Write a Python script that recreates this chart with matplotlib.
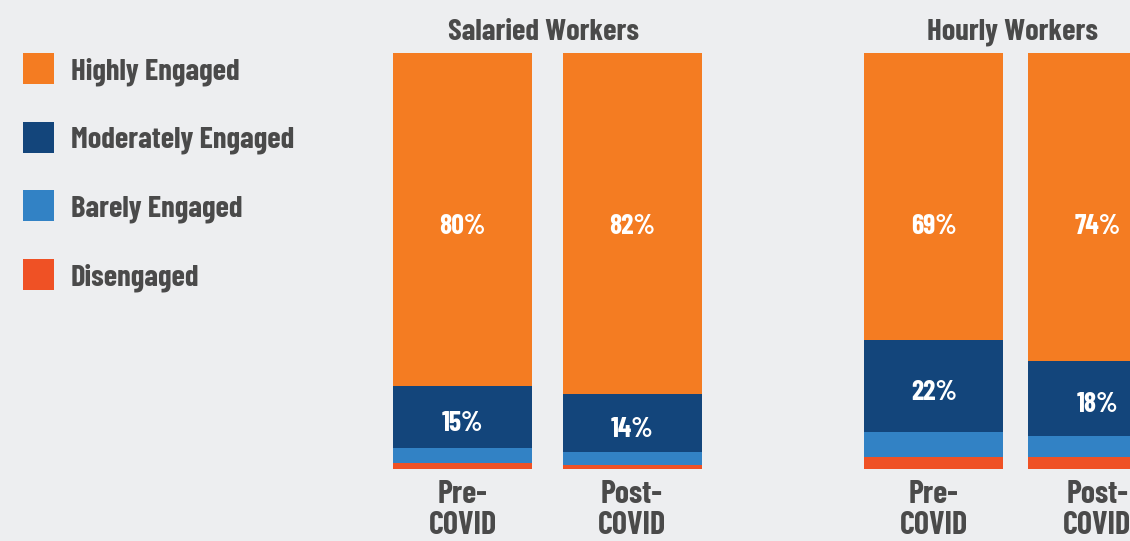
import matplotlib
matplotlib.use("Agg")
import matplotlib.pyplot as plt
from matplotlib.patches import Rectangle

plt.rcParams['font.family'] = ['Barlow Condensed', 'DejaVu Sans']

# data
groups = ["Salaried Workers", "Hourly Workers"]
periods = ["Pre-\nCOVID", "Post-\nCOVID", "Pre-\nCOVID", "Post-\nCOVID"]
segments = ["Highly Engaged", "Moderately Engaged", "Barely Engaged", "Disengaged"]
highly = [80, 82, 69, 74]
moderately = [15, 14, 22, 18]
barely = [3.5, 3, 6, 5]
disengaged = [1.5, 1, 3, 3]

colors = ["#F47C22", "#13457B", "#3282C5", "#EF5125"]
bg = "#EDEEF0"
grey = "#4A4A4A"
FW = 700

W, H = 1130, 541
fig = plt.figure(figsize=(W / 100, H / 100), dpi=100, facecolor=bg)
ax = fig.add_axes([0, 72 / H, 1, 416 / H])
ax.set_facecolor(bg)

xpos = [0, 1.0, 2.78, 3.746]
width = 0.82
ax.set_xlim(-2.729, 3.938)
ax.set_ylim(0, 100)

values = [disengaged, barely, moderately, highly]
cols = colors[::-1]
bottom = [0, 0, 0, 0]
for vals, c in zip(values, cols):
    ax.bar(xpos, vals, width, bottom=bottom, color=c, linewidth=0)
    bottom = [b + v for b, v in zip(bottom, vals)]

# % labels: highly ones sit at one common height, moderately ones in their segment
for i, x in enumerate(xpos):
    base = disengaged[i] + barely[i]
    ax.text(x, base + moderately[i] / 2 - 1.6, f"{moderately[i]}%", color="white",
            ha="center", va="center", fontsize=20, fontweight=FW)
    ax.text(x, 58.2, f"{highly[i]}%", color="white",
            ha="center", va="center", fontsize=20, fontweight=FW)

ax.set_xticks(xpos, periods)
ax.tick_params(axis="x", length=0, pad=8, labelsize=23, labelcolor=grey)
for t in ax.get_xticklabels():
    t.set_fontweight(FW)
    t.set_linespacing(1.1)
ax.set_yticks([])
for s in ax.spines.values():
    s.set_visible(False)

# group titles
tr = ax.get_xaxis_transform()
ax.text((xpos[0] + xpos[1]) / 2 - 0.024, 1.05, groups[0], transform=tr,
        ha="center", va="center", fontsize=22, fontweight=FW, color=grey)
ax.text((xpos[2] + xpos[3]) / 2 - 0.02, 1.05, groups[1], transform=tr,
        ha="center", va="center", fontsize=22, fontweight=FW, color=grey)

# legend
for i, (name, c) in enumerate(zip(segments, colors)):
    yc = 68.5 + i * 68.7
    fig.patches.append(Rectangle((23 / W, 1 - (yc + 15.5) / H), 31 / W, 31 / H,
                                 transform=fig.transFigure, color=c, linewidth=0))
    fig.text(71 / W, 1 - yc / H, name, ha="left", va="center_baseline",
             fontsize=22, fontweight=FW, color=grey)

fig.savefig("out.png", dpi=100, facecolor=bg)
